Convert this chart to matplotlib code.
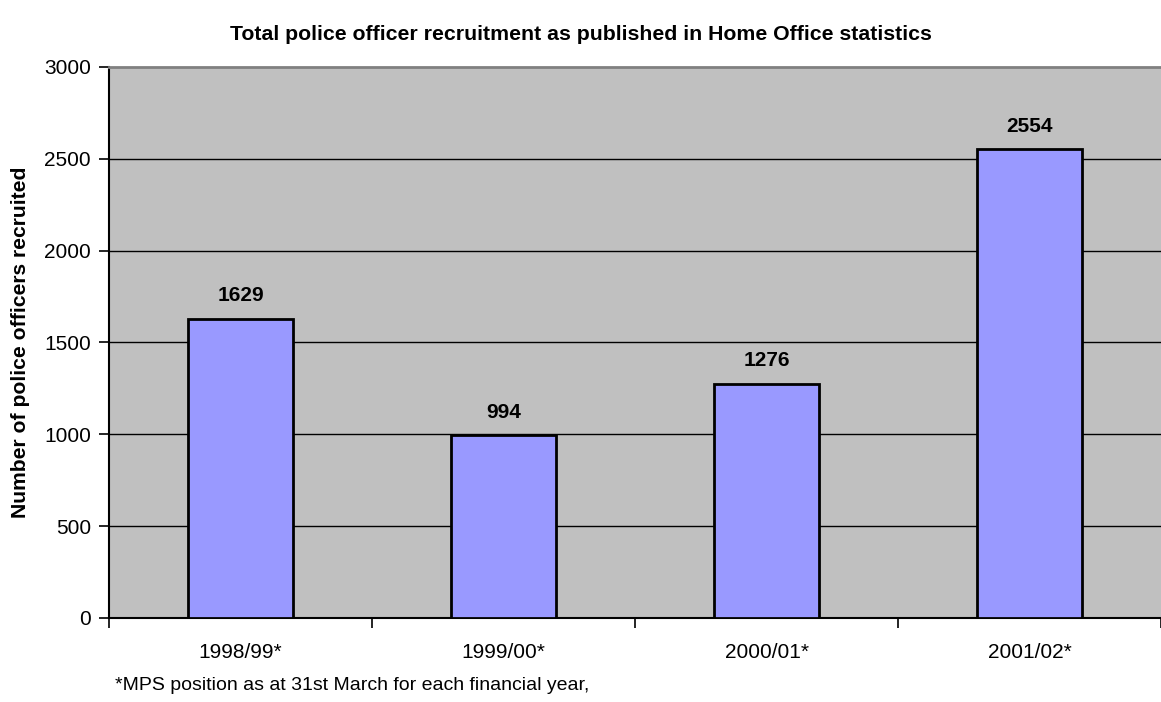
import matplotlib
matplotlib.use("Agg")
from matplotlib import pyplot as plt

years = ["1998/99*", "1999/00*", "2000/01*", "2001/02*"]
recruited = [1629, 994, 1276, 2554]
yticks = [0, 500, 1000, 1500, 2000, 2500, 3000]

plt.rcParams['font.family'] = ['Liberation Sans', 'DejaVu Sans']

fig = plt.figure(figsize=(11.61, 7.02), dpi=100)
ax = fig.add_axes([0.0939, 0.1197, 0.9061, 0.7849])
ax.set_facecolor("#C0C0C0")

x = list(range(len(years)))
bars = ax.bar(x, recruited, width=0.4, color="#9999FF", edgecolor="black", linewidth=2, zorder=3)

for xi, v in zip(x, recruited):
    ax.annotate(str(v), xy=(xi, v), xytext=(0, 12.5), textcoords="offset points",
                ha="center", va="baseline", fontsize=15, fontweight="bold", zorder=4)

ax.set_xlim(-0.5, len(years) - 0.5)
ax.set_ylim(0, 3000)
ax.set_yticks(yticks)
ax.set_yticklabels([str(t) for t in yticks], fontsize=15)
for t in yticks[1:-1]:
    ax.axhline(t, color="black", linewidth=1, zorder=1)

# category labels sit between the boundary tick marks
ax.set_xticks([i - 0.5 for i in range(len(years) + 1)])
ax.set_xticklabels([])
ax.set_xticks(x, minor=True)
ax.set_xticklabels(years, minor=True, fontsize=15)
ax.tick_params(axis="x", which="minor", length=0, pad=18)
ax.tick_params(axis="x", which="major", length=7, width=1.2, direction="out")
ax.tick_params(axis="y", length=7, width=1.2, direction="out", pad=6)

ax.spines["left"].set_linewidth(1.5)
ax.spines["bottom"].set_linewidth(1.5)
ax.spines["top"].set_color("#808080")
ax.spines["top"].set_linewidth(2)
ax.spines["right"].set_visible(False)

ax.set_ylabel("Number of police officers recruited", fontsize=15.2, fontweight="bold", labelpad=10)
fig.text(0.5005, 0.951, "Total police officer recruitment as published in Home Office statistics",
         ha="center", va="center", fontsize=15.3, fontweight="bold")
fig.text(0.099, 0.023, "*MPS position as at 31st March for each financial year,",
         ha="left", va="center", fontsize=14)

fig.savefig("out.png", dpi=100)
